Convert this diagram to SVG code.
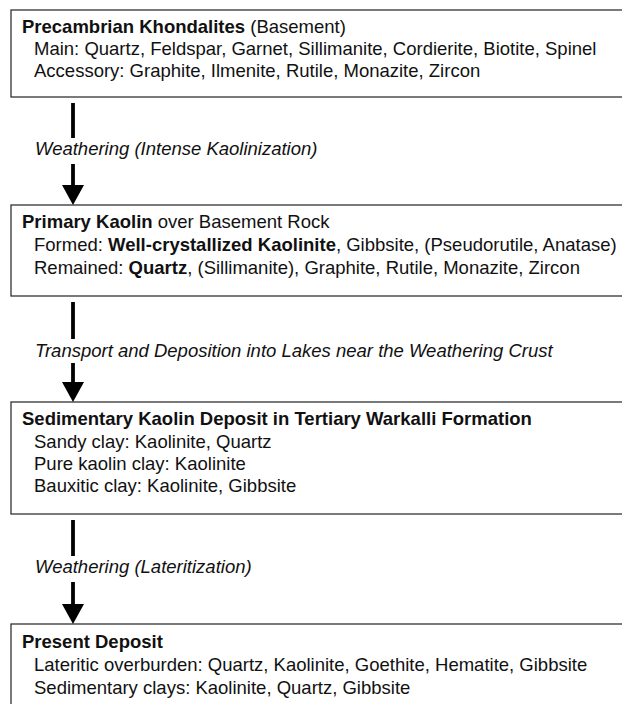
<svg xmlns="http://www.w3.org/2000/svg" width="622" height="704" viewBox="0 0 622 704">
<style>
  .box { fill: #fff; stroke: #333; stroke-width: 1.3; }
  text { font-family: "Liberation Sans", Arial, sans-serif; font-size: 18.5px; fill: #111; }
  .b { font-weight: bold; }
  .lbl { font-style: italic; }
  .conn line { stroke: #000; stroke-width: 3.8; }
  .conn path { fill: #000; }
</style>
<rect width="622" height="704" fill="#fff"/>
<g id="node1">
  <rect class="box" x="11" y="10" width="620" height="87"/>
  <text x="22" y="33"><tspan class="b">Precambrian Khondalites</tspan> (Basement)</text>
  <text x="34" y="55">Main: Quartz, Feldspar, Garnet, Sillimanite, Cordierite, Biotite, Spinel</text>
  <text x="34" y="77">Accessory: Graphite, Ilmenite, Rutile, Monazite, Zircon</text>
</g>
<g id="node2">
  <rect class="box" x="11" y="205" width="620" height="91"/>
  <text x="22" y="228"><tspan class="b">Primary Kaolin</tspan> over Basement Rock</text>
  <text x="34" y="251">Formed: <tspan class="b">Well-crystallized Kaolinite</tspan>, Gibbsite, (Pseudorutile, Anatase)</text>
  <text x="34" y="274">Remained: <tspan class="b">Quartz</tspan>, (Sillimanite), Graphite, Rutile, Monazite, Zircon</text>
</g>
<g id="node3">
  <rect class="box" x="11" y="402" width="620" height="112"/>
  <text x="22" y="425" class="b">Sedimentary Kaolin Deposit in Tertiary Warkalli Formation</text>
  <text x="34" y="448">Sandy clay: Kaolinite, Quartz</text>
  <text x="34" y="470">Pure kaolin clay: Kaolinite</text>
  <text x="34" y="492">Bauxitic clay: Kaolinite, Gibbsite</text>
</g>
<g id="node4">
  <rect class="box" x="11" y="624" width="620" height="100"/>
  <text x="22" y="648" class="b">Present Deposit</text>
  <text x="34" y="671">Lateritic overburden: Quartz, Kaolinite, Goethite, Hematite, Gibbsite</text>
  <text x="34" y="694">Sedimentary clays: Kaolinite, Quartz, Gibbsite</text>
</g>
<g id="connectors" class="conn">
  <line x1="73" y1="103" x2="73" y2="138"/>
  <line x1="73" y1="164" x2="73" y2="188"/>
  <path d="M62,185 L84,185 L73,205 Z"/>
  <line x1="73" y1="302" x2="73" y2="339"/>
  <line x1="73" y1="363" x2="73" y2="385"/>
  <path d="M62,382 L84,382 L73,402 Z"/>
  <line x1="73" y1="520" x2="73" y2="556"/>
  <line x1="73" y1="582" x2="73" y2="607"/>
  <path d="M62,604 L84,604 L73,624 Z"/>
  <text class="lbl" x="35" y="155">Weathering (Intense Kaolinization)</text>
  <text class="lbl" x="35" y="357">Transport and Deposition into Lakes near the Weathering Crust</text>
  <text class="lbl" x="35" y="573">Weathering (Lateritization)</text>
</g>
</svg>
